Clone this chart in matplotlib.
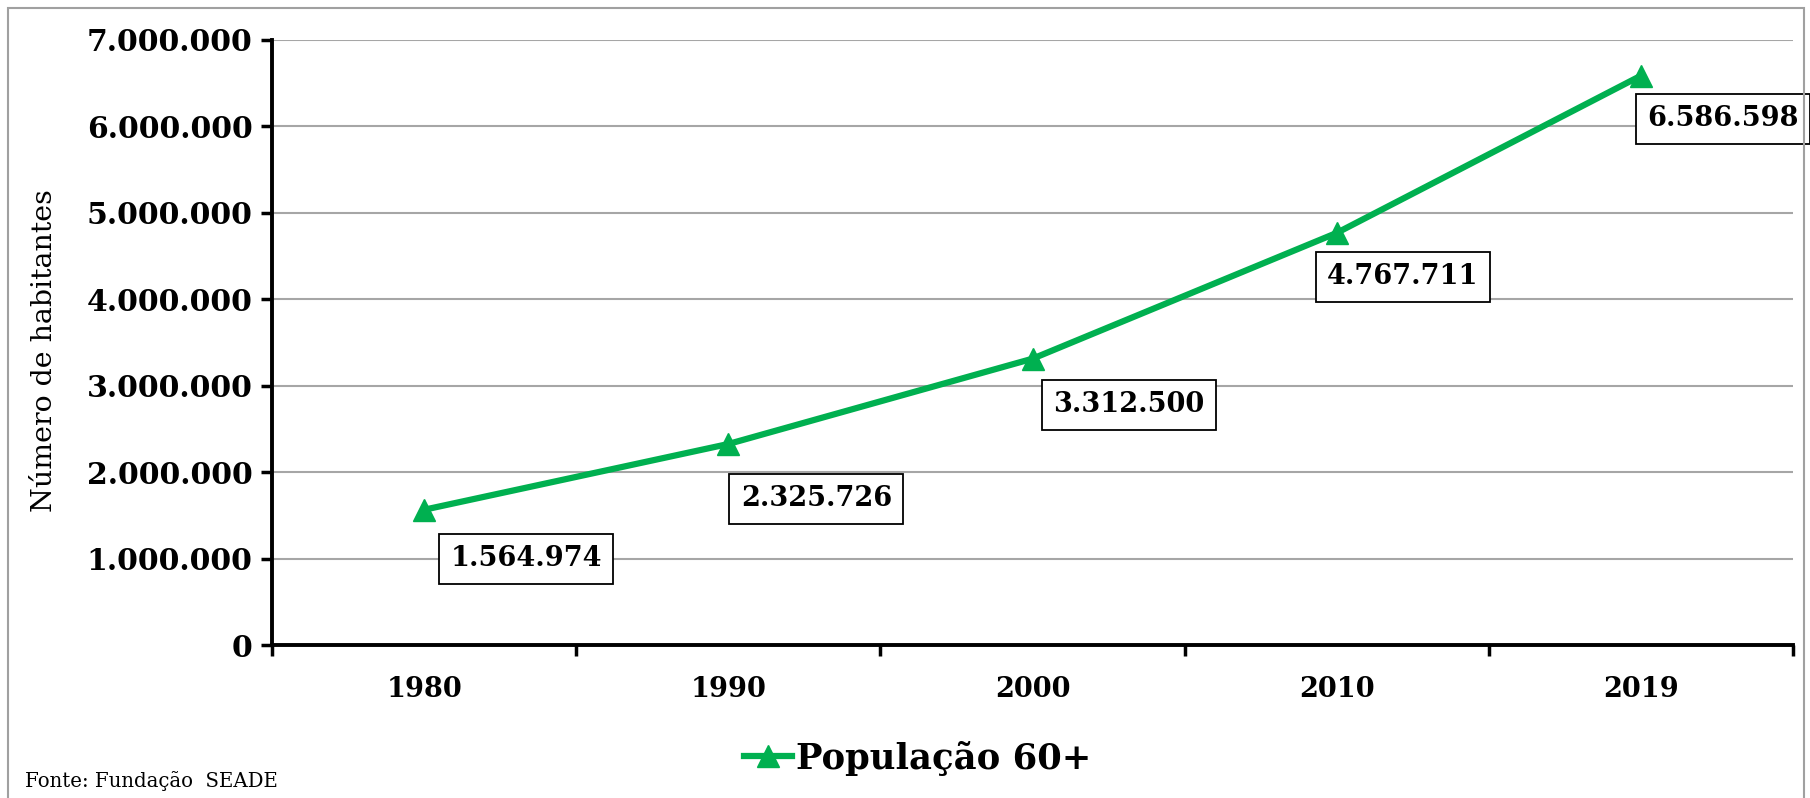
import matplotlib
matplotlib.use("Agg")
import matplotlib.pyplot as plt
from matplotlib.patches import Rectangle
from matplotlib.lines import Line2D

years = ["1980", "1990", "2000", "2010", "2019"]
populacao = [1564974, 2325726, 3312500, 4767711, 6586598]
value_labels = ["1.564.974", "2.325.726", "3.312.500", "4.767.711", "6.586.598"]
ytick_values = [0, 1000000, 2000000, 3000000, 4000000, 5000000, 6000000, 7000000]
ytick_labels = ["0", "1.000.000", "2.000.000", "3.000.000", "4.000.000",
                "5.000.000", "6.000.000", "7.000.000"]

green = "#00B050"
serif = ["DejaVu Serif"]

fig = plt.figure(figsize=(18.10, 7.98), dpi=100)
ax = fig.add_axes([0.1503, 0.1917, 0.9906 - 0.1503, 0.9499 - 0.1917])

x = list(range(len(years)))
ax.plot(x, populacao, color=green, lw=4.5, marker="^", markersize=16,
        markeredgecolor=green, markerfacecolor=green, zorder=3)

# data labels (offsets in pixels)
offsets = [(102, -49), (88, -55), (96, -46), (66, -44), (82, -43)]
for xi, yi, lab, off in zip(x, populacao, value_labels, offsets):
    ax.annotate(lab, (xi, yi), xytext=(off[0] * 0.72, off[1] * 0.72),
                textcoords="offset points", ha="center", va="center",
                fontsize=19.5, fontweight="bold", family=serif,
                bbox=dict(boxstyle="square,pad=0.42", fc="white", ec="black", lw=1.3),
                zorder=4, annotation_clip=False)

ax.set_xlim(-0.5, len(years) - 0.5)
ax.set_ylim(0, 7000000)
ax.set_yticks(ytick_values)
ax.set_yticklabels(ytick_labels, fontsize=21.5, fontweight="bold", family=serif)
ax.set_xticks(x)
ax.set_xticklabels(years, fontsize=19.5, fontweight="bold", family=serif)
ax.set_xticks([i - 0.5 for i in range(len(years) + 1)], minor=True)
ax.tick_params(axis="x", which="major", length=0, pad=22)
ax.tick_params(axis="x", which="minor", length=8, width=2.5, direction="out")
ax.tick_params(axis="y", which="major", length=8, width=2.5, direction="out", pad=6)

ax.grid(axis="y", color="#A6A6A6", lw=1.5)
ax.set_axisbelow(True)
for s in ["top", "right"]:
    ax.spines[s].set_visible(False)
for s in ["left", "bottom"]:
    ax.spines[s].set_linewidth(2.8)
    ax.spines[s].set_color("black")

ax.set_ylabel("Número de habitantes", fontsize=20.5, family=serif)
ax.yaxis.set_label_coords(-0.141, 0.486)

handle = Line2D([], [], color=green, lw=4.5, marker="^", markersize=16,
                markeredgecolor=green, markerfacecolor=green)
leg = fig.legend([handle], ["População 60+"], loc="center",
                 bbox_to_anchor=(795 * 1.1543 / 1810, 1 - 758 / 798),
                 frameon=False, handlelength=1.35, handletextpad=0.1,
                 prop=dict(family=serif, weight="bold", size=25.5))

fig.text(25 / 1810, 1 - 781 / 798, "Fonte: Fundação  SEADE", fontsize=14.2,
         family=serif, va="center", ha="left")

fig.patches.append(Rectangle((8 / 1810, -0.05), (1804 - 8) / 1810, 1.05 - 8 / 798,
                             transform=fig.transFigure, fill=False,
                             ec="#A0A0A0", lw=1.5))

fig.savefig("out.png", dpi=100, facecolor="white")
